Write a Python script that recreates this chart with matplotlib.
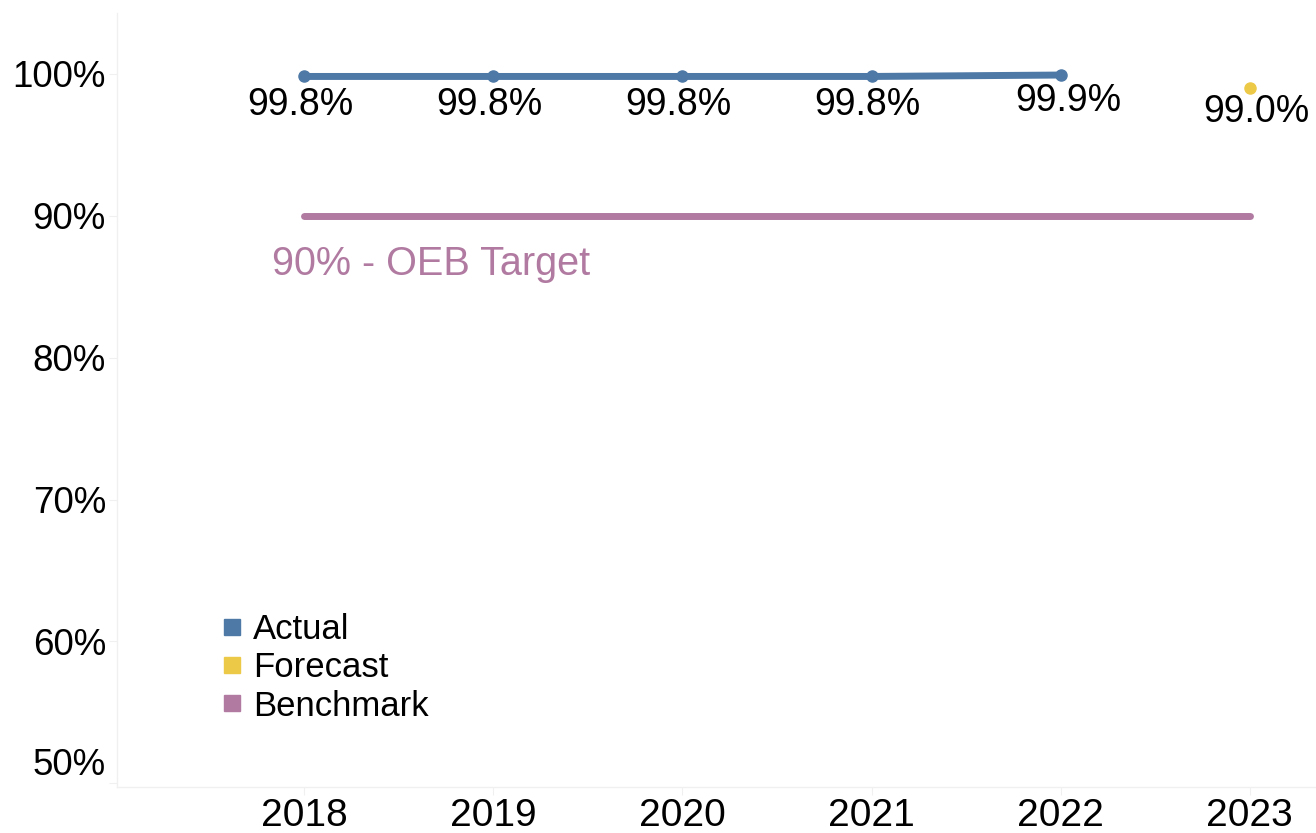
import matplotlib
matplotlib.use("Agg")
import matplotlib.pyplot as plt
from matplotlib.lines import Line2D

# Reliability series (percent)
actual_years = [2018, 2019, 2020, 2021, 2022]
actual_values = [99.8, 99.8, 99.8, 99.8, 99.9]
forecast_years = [2023]
forecast_values = [99.0]
benchmark_years = [2018, 2023]
benchmark_values = [90.0, 90.0]
benchmark_label = "90% - OEB Target"

year_ticks = [2018, 2019, 2020, 2021, 2022, 2023]
pct_ticks = [50, 60, 70, 80, 90, 100]

BLUE = "#4E79A7"
YELLOW = "#EDC948"
PURPLE = "#B07AA1"
FAINT = "#F0F0F0"

plt.rcParams["font.family"] = ["Liberation Sans", "DejaVu Sans"]

fig = plt.figure(figsize=(13.16, 8.33), dpi=100)
ax = fig.add_axes([0.0889, 0.0552, 0.9111, 0.9292])

ax.plot(actual_years, actual_values, color=BLUE, lw=5, marker="o", ms=8,
        solid_capstyle="round", zorder=3)
ax.plot(forecast_years, forecast_values, color=YELLOW, marker="o", ms=8,
        ls="none", zorder=3)
ax.plot(benchmark_years, benchmark_values, color=PURPLE, lw=5,
        solid_capstyle="round", zorder=2)

# value labels under each point; the last actual label sits a bit to the right
for i, (x, v) in enumerate(zip(actual_years, actual_values)):
    dx, dy = (8, -26) if i == len(actual_years) - 1 else (-4, -29)
    ax.annotate(f"{v:.1f}%", (x, v), xytext=(dx, dy), textcoords="offset pixels",
                ha="center", va="center", fontsize=27, color="black")
for x, v in zip(forecast_years, forecast_values):
    ax.annotate(f"{v:.1f}%", (x, v), xytext=(7, -24), textcoords="offset pixels",
                ha="center", va="center", fontsize=27, color="black")

ax.annotate(benchmark_label, (benchmark_years[0], benchmark_values[0]),
            xytext=(-32, -48), textcoords="offset pixels",
            ha="left", va="center", fontsize=28.5, color=PURPLE)

ax.set_xlim(2017.01, 2023.35)
ax.set_ylim(49.75, 104.27)
ax.set_xticks(year_ticks)
ax.set_xticklabels([str(y) for y in year_ticks])
ax.set_yticks(pct_ticks)
ax.set_yticklabels([f"{p}%" for p in pct_ticks])

ax.tick_params(axis="both", color=FAINT, length=6)
ax.tick_params(axis="y", labelsize=26.5, pad=2)
ax.tick_params(axis="x", labelsize=28, pad=2)
ax.get_yticklabels()[0].set_verticalalignment("bottom")

for side in ["top", "right"]:
    ax.spines[side].set_visible(False)
for side in ["left", "bottom"]:
    ax.spines[side].set_color(FAINT)
    ax.spines[side].set_linewidth(1)

handles = [
    Line2D([], [], marker="s", ls="none", color=BLUE, ms=11),
    Line2D([], [], marker="s", ls="none", color=YELLOW, ms=11),
    Line2D([], [], marker="s", ls="none", color=PURPLE, ms=11),
]
ax.legend(handles, ["Actual", "Forecast", "Benchmark"], loc="upper left",
          bbox_to_anchor=(0.073, 0.247), frameon=False, fontsize=25,
          handlelength=0.6, handletextpad=0.3, labelspacing=0.15, borderpad=0)

fig.savefig("out.png", dpi=100)
